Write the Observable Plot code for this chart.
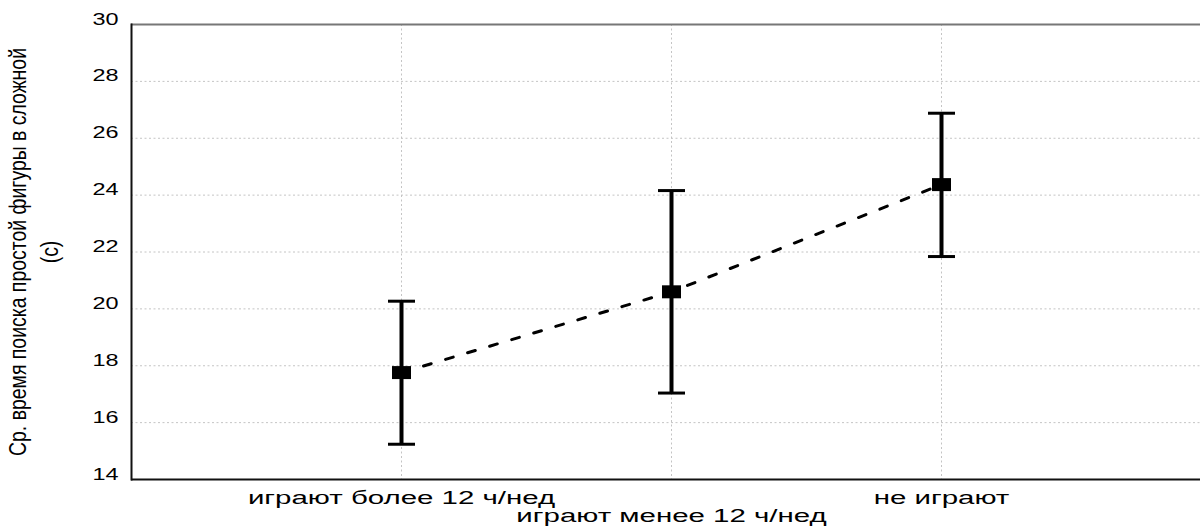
<!DOCTYPE html>
<html>
<head>
<meta charset="utf-8">
<script src="https://cdn.jsdelivr.net/npm/d3@7"></script>
<script src="https://cdn.jsdelivr.net/npm/@observablehq/plot@0.6"></script>
<style>
  html, body { margin: 0; padding: 0; background: #fff; }
</style>
</head>
<body>
<div id="chart"></div>
<script>
const categories = ["играют более 12 ч/нед", "играют менее 12 ч/нед", "не играют"];
const means = [17.76, 20.6, 24.37];
const lower = [15.24, 17.04, 21.84];
const upper = [20.27, 24.16, 26.88];
const yTicks = [14, 16, 18, 20, 22, 24, 26, 28, 30];
const yGrid = [16, 18, 20, 22, 24, 26, 28];
const yLabel = "Ср. время поиска простой фигуры в сложной\n(с)";

const data = categories.map((c, i) => ({cat: c, mean: means[i], lo: lower[i], hi: upper[i]}));

const rectSymbol = {draw(ctx) { ctx.rect(-9.5, -6.5, 19, 13); }};
const capSymbol = {draw(ctx) { ctx.moveTo(-13.5, 0); ctx.lineTo(13.5, 0); }};

const chart = Plot.plot({
  width: 1200,
  height: 529,
  marginLeft: 131,
  marginRight: 0,
  marginTop: 24,
  marginBottom: 50,
  style: {fontFamily: "'Liberation Sans', Arial, sans-serif", background: "#fff", color: "#000"},
  x: {type: "point", domain: categories, padding: 1, range: [131, 1211], label: null},
  y: {domain: [14, 30], label: null},
  marks: [
    Plot.gridY(yGrid, {stroke: "#c4c4c4", strokeOpacity: 1, strokeDasharray: "2,2.5"}),
    Plot.gridX(categories, {stroke: "#c4c4c4", strokeOpacity: 1, strokeDasharray: "2,2.5"}),
    Plot.ruleY([30], {stroke: "#777", strokeWidth: 2}),
    Plot.ruleY([14], {stroke: "#111", strokeWidth: 2}),
    Plot.frame({anchor: "left", stroke: "#111", strokeWidth: 2}),
    Plot.axisY(yTicks, {tickSize: 0, tickPadding: 13, fontSize: 16.5, label: null}),
    Plot.axisX([categories[0], categories[2]], {tickSize: 0, tickPadding: 24, fontSize: 19, label: null}),
    Plot.axisX([categories[1]], {tickSize: 0, tickPadding: 24, dy: 18, fontSize: 19, label: null}),
    Plot.text([yLabel], {frameAnchor: "left", textAnchor: "middle", rotate: -90, dx: -100, fontSize: 24, lineHeight: 1.35, fill: "#000"}),
    Plot.line(data, {x: "cat", y: "mean", stroke: "#000", strokeWidth: 3, strokeDasharray: "8,15"}),
    Plot.ruleX(data, {x: "cat", y1: "lo", y2: "hi", stroke: "#000", strokeWidth: 4}),
    Plot.dot(data, {x: "cat", y: "hi", symbol: capSymbol, stroke: "#000", fill: "none", strokeWidth: 3, r: 5}),
    Plot.dot(data, {x: "cat", y: "lo", symbol: capSymbol, stroke: "#000", fill: "none", strokeWidth: 3, r: 5}),
    Plot.dot(data, {x: "cat", y: "mean", symbol: rectSymbol, fill: "#000", stroke: "none", r: 5})
  ]
});

document.getElementById("chart").append(chart);

// Stretch glyphs to mimic the reference's wide rendering
const factors = {"y-axis tick label": 1.42, "x-axis tick label": 1.55, "text": 0.81};
for (const t of chart.querySelectorAll("text")) {
  const g = t.closest("g[aria-label]");
  const key = g ? g.getAttribute("aria-label") : "";
  const s = factors[key];
  if (!s) continue;
  let tr = t.getAttribute("transform") || "";
  if (t.hasAttribute("x") || t.hasAttribute("y")) {
    const x = +t.getAttribute("x") || 0, y = +t.getAttribute("y") || 0;
    t.removeAttribute("x"); t.removeAttribute("y");
    tr += ` translate(${x},${y})`;
  }
  t.setAttribute("transform", `${tr} scale(${s},1)`);
}
</script>
</body>
</html>
